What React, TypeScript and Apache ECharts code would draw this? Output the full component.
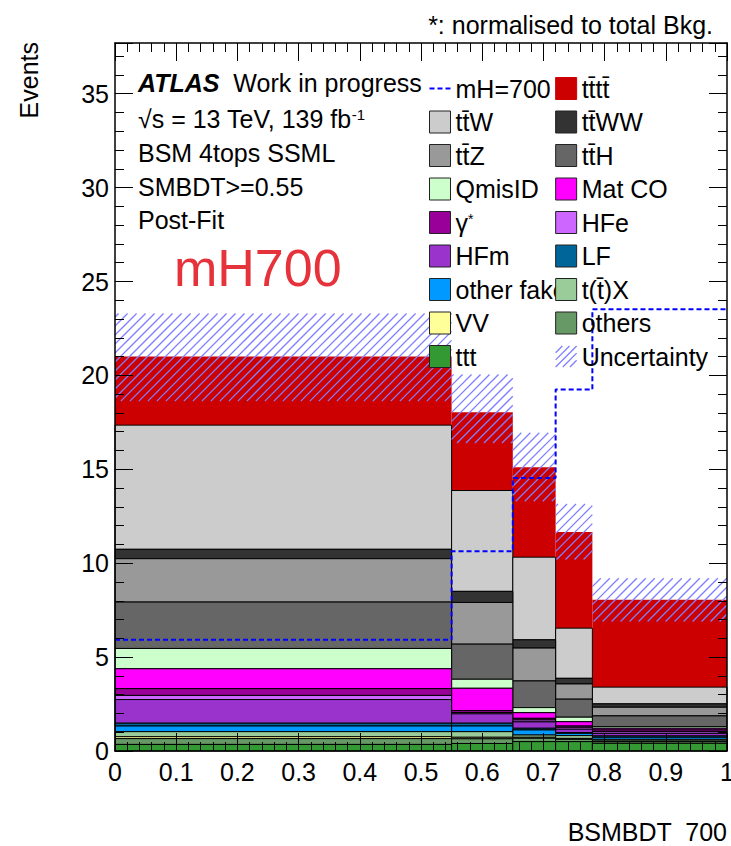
import React, { useEffect, useRef } from 'react';
import * as echarts from 'echarts';

// ---- data ----
const binEdges = [0, 0.55, 0.65, 0.72, 0.78, 1.0];

// stacked backgrounds, bottom -> top
const ttt = [0.35, 0.40, 0.50, 0.50, 0.41];
const others = [0.31, 0.25, 0.18, 0.12, 0.09];
const VV = [0.10, 0.08, 0.05, 0.05, 0.03];
const ttX = [0.27, 0.30, 0.12, 0.15, 0.09];
const otherFake = [0.30, 0.30, 0.27, 0.12, 0.11];
const LF = [0.15, 0.15, 0.09, 0.04, 0.07];
const HFm = [1.26, 0.50, 0.34, 0.18, 0.14];
const HFe = [0.22, 0.07, 0.10, 0.10, 0.09];
const gammaStar = [0.36, 0.10, 0.09, 0.07, 0.09];
const matCO = [1.06, 1.19, 0.30, 0.23, 0.09];
const qmisID = [1.08, 0.48, 0.27, 0.24, 0.09];
const ttH = [2.47, 1.87, 1.42, 0.96, 0.57];
const ttZ = [2.31, 2.22, 1.75, 0.81, 0.46];
const ttWW = [0.50, 0.59, 0.44, 0.30, 0.18];
const ttW = [6.61, 5.37, 4.40, 2.67, 0.89];
const tttt = [3.65, 4.17, 4.79, 5.12, 4.65];

const uncUp = [23.3, 20.05, 16.95, 13.15, 9.2];
const uncDown = [18.63, 16.4, 13.3, 10.2, 6.9];
const signal = [5.92, 10.63, 14.54, 19.25, 23.52];

const yMax = 37.7;

const layerNames = ['ttt', 'others', 'VV', 't(t\u0304)X', 'other fake', 'LF', 'HFm', 'HFe', 'γ*', 'Mat CO', 'QmisID', 'tt\u0304H', 'tt\u0304Z', 'tt\u0304WW', 'tt\u0304W', 'tt\u0304tt\u0304'];
const layerValues = [ttt, others, VV, ttX, otherFake, LF, HFm, HFe, gammaStar, matCO, qmisID, ttH, ttZ, ttWW, ttW, tttt];
const layerColors = ['#339933', '#669966', '#ffff99', '#99cc99', '#0099ff', '#006699', '#9933cc', '#cc66ff', '#990099', '#ff00ff', '#ccffcc', '#666666', '#999999', '#333333', '#cccccc', '#cc0000'];

const legendLeft = ['mH=700', 'tt\u0304W', 'tt\u0304Z', 'QmisID', 'γ*', 'HFm', 'other fake', 'VV', 'ttt'];
const legendRight = ['tt\u0304tt\u0304', 'tt\u0304WW', 'tt\u0304H', 'Mat CO', 'HFe', 'LF', 't(t\u0304)X', 'others', 'Uncertainty'];

const FONT = '"Liberation Sans", Arial, Helvetica, sans-serif';
const HATCH = '#7f7fff';

export default function App() {
  const ref = useRef<HTMLDivElement>(null);

  useEffect(() => {
    document.body.style.margin = '0';
    const chart = echarts.init(ref.current as HTMLDivElement, null, { renderer: 'svg' });

    // cumulative stack
    const nBins = binEdges.length - 1;
    const cum = new Array(nBins).fill(0);
    const layerSeries: any[] = [];
    layerNames.forEach((name, li) => {
      const data: number[][] = [];
      for (let b = 0; b < nBins; b++) {
        const lo = cum[b];
        const hi = lo + layerValues[li][b];
        cum[b] = hi;
        data.push([binEdges[b], binEdges[b + 1], lo, hi]);
      }
      const color = layerColors[li];
      const isTop = li === layerNames.length - 1;
      layerSeries.push({
        type: 'custom',
        name,
        xAxisIndex: 0,
        yAxisIndex: 0,
        clip: false,
        z: 2,
        itemStyle: { color },
        encode: { x: [0, 1], y: [2, 3] },
        data,
        renderItem: (params: any, api: any) => {
          const x0 = api.value(0), x1 = api.value(1), lo = api.value(2), hi = api.value(3);
          if (hi - lo <= 0) return null;
          const pTL = api.coord([x0, hi]);
          const pBR = api.coord([x1, lo]);
          return {
            type: 'rect',
            shape: { x: pTL[0], y: pTL[1], width: pBR[0] - pTL[0], height: pBR[1] - pTL[1] },
            style: isTop ? { fill: color, stroke: null } : { fill: color, stroke: '#000', lineWidth: 1 },
          };
        },
      });
    });
    // draw top layers first so lower layers' outlines sit above them
    layerSeries.reverse();

    const uncData = uncUp.map((u, b) => [binEdges[b], binEdges[b + 1], uncDown[b], u]);
    const uncSeries = {
      type: 'custom',
      name: 'Uncertainty',
      xAxisIndex: 0,
      yAxisIndex: 0,
      clip: false,
      z: 4,
      itemStyle: { color: HATCH },
      encode: { x: [0, 1], y: [2, 3] },
      data: uncData,
      renderItem: (params: any, api: any) => {
        const x0 = api.value(0), x1 = api.value(1), lo = api.value(2), hi = api.value(3);
        const pTL = api.coord([x0, hi]);
        const pBR = api.coord([x1, lo]);
        const X0 = pTL[0], Y0 = pTL[1], X1 = pBR[0], Y1 = pBR[1];
        const step = 9;
        const children: any[] = [];
        for (let c = Math.ceil((X0 + Y0) / step) * step; c <= X1 + Y1; c += step) {
          const xa = Math.max(X0, c - Y1);
          const xb = Math.min(X1, c - Y0);
          if (xb - xa > 0.5) {
            children.push({
              type: 'line',
              shape: { x1: xa, y1: c - xa, x2: xb, y2: c - xb },
              style: { stroke: HATCH, lineWidth: 1.3 },
            });
          }
        }
        return { type: 'group', children };
      },
    };

    const sigData = binEdges.map((x, i) => [x, signal[Math.min(i, signal.length - 1)]]);
    const sigSeries = {
      type: 'line',
      name: 'mH=700',
      xAxisIndex: 0,
      yAxisIndex: 0,
      step: 'end',
      symbol: 'none',
      z: 5,
      lineStyle: { color: '#0000ff', width: 2, type: [5, 3] },
      itemStyle: { color: '#0000ff' },
      data: sigData,
    };

    const tickLine = { color: '#000', width: 1 };
    const frameLine = { color: '#000', width: 1.5 };
    const mkX = (position: string, interval: number, len: number, labels: boolean, line: boolean) => ({
      type: 'value', min: 0, max: 1, interval, position, z: 10,
      axisLine: { show: line, onZero: false, lineStyle: frameLine },
      axisTick: { show: true, inside: true, length: len, lineStyle: tickLine },
      axisLabel: labels
        ? { show: true, margin: 8, color: '#000', fontSize: 25, fontFamily: FONT }
        : { show: false },
      splitLine: { show: false },
    });
    const mkY = (position: string, interval: number, len: number, labels: boolean, line: boolean) => ({
      type: 'value', min: 0, max: yMax, interval, position, z: 10,
      axisLine: { show: line, onZero: false, lineStyle: frameLine },
      axisTick: { show: true, inside: true, length: len, lineStyle: tickLine },
      axisLabel: labels
        ? {
            show: true, margin: 6, color: '#000', fontSize: 25, fontFamily: FONT,
            formatter: (v: number) => (Math.abs(v / 5 - Math.round(v / 5)) < 1e-6 ? String(Math.round(v)) : ''),
          }
        : { show: false },
      splitLine: { show: false },
    });

    const legendItem = (name: string) => {
      if (name === 'mH=700') {
        return {
          name,
          icon: 'path://M0,0h0.01v0.01h-0.01zM21,22h0.01v0.01h-0.01zM0,10h5v2H0zM8,10h5v2H8zM16,10h5v2h-5z',
          itemStyle: { color: '#0000ff', borderWidth: 0 },
        };
      }
      if (name === 'Uncertainty') {
        return {
          name,
          icon: 'path://M0,22L22,0M0,14.5L14.5,0M0,7L7,0M7.5,22L22,7.5M15,22L22,15',
          itemStyle: { color: 'transparent', borderColor: HATCH, borderWidth: 1.3 },
        };
      }
      const i = layerNames.indexOf(name);
      const color = layerColors[i];
      return {
        name,
        icon: 'rect',
        itemStyle: { color, borderColor: name === 'tt\u0304tt\u0304' ? color : '#222', borderWidth: 1 },
      };
    };
    const legendCommon = {
      orient: 'vertical',
      top: 76,
      padding: 0,
      itemWidth: 21,
      itemHeight: 22,
      itemGap: 8.5,
      selectedMode: false,
      formatter: (name: string) => (name === 'γ*' ? '{g|γ}{s|*}' : name),
      textStyle: {
        fontSize: 25, fontFamily: FONT, color: '#000', lineHeight: 22,
        rich: {
          g: { fontSize: 25, fontFamily: FONT, color: '#000', lineHeight: 22 },
          s: { fontSize: 14, fontFamily: FONT, color: '#000', lineHeight: 10, verticalAlign: 'top' },
        },
      },
    };

    const txt = (text: string, x: number, y: number, extra: any = {}, rich?: any) => ({
      type: 'text',
      x, y,
      z: 20,
      style: {
        text, fontSize: 25, fontFamily: FONT, fill: '#000',
        align: 'left', verticalAlign: 'middle', textAlign: 'left', textVerticalAlign: 'middle',
        rich, ...extra,
      },
    });

    const option: any = {
      animation: false,
      backgroundColor: '#fff',
      grid: { left: 115, top: 43, width: 612, height: 708, containLabel: false, outerBoundsMode: 'none' },
      xAxis: [
        mkX('bottom', 0.1, 18, true, true),
        mkX('bottom', 0.02, 9, false, false),
        mkX('top', 0.1, 18, false, true),
        mkX('top', 0.02, 9, false, false),
      ],
      yAxis: [
        mkY('left', 5, 18, true, true),
        mkY('left', 1, 9, false, false),
        mkY('right', 5, 18, false, true),
        mkY('right', 1, 9, false, false),
      ],
      legend: [
        { ...legendCommon, left: 429, data: legendLeft.map(legendItem), z: 6 },
        { ...legendCommon, left: 555, data: legendRight.map(legendItem), z: 7 },
      ],
      graphic: [
        txt('{b|ATLAS}  Work in progress', 138, 83, {}, {
          b: { fontSize: 25, fontFamily: FONT, fontWeight: 'bold', fontStyle: 'italic', fill: '#000' },
        }),
        txt('√s = 13 TeV, 139 fb{sup|-1}', 138, 119, {}, {
          sup: { fontSize: 15, fontFamily: FONT, fill: '#000', verticalAlign: 'top', lineHeight: 14 },
        }),
        txt('BSM 4tops SSML', 138, 153),
        txt('SMBDT>=0.55', 138, 187),
        txt('Post-Fit', 138, 220),
        txt('mH700', 174, 268, { fontSize: 52, fill: '#e5323b' }),
        txt('*: normalised to total Bkg.', 713, 25, { align: 'right', textAlign: 'right' }),
        txt('BSMBDT  700', 727, 832, { align: 'right', textAlign: 'right' }),
        {
          type: 'text', x: 29, y: 42, rotation: Math.PI / 2, z: 20,
          style: {
            text: 'Events', fontSize: 25, fontFamily: FONT, fill: '#000',
            align: 'right', verticalAlign: 'middle', textAlign: 'right', textVerticalAlign: 'middle',
          },
        },
      ],
      series: [...layerSeries, uncSeries, sigSeries],
    };

    chart.setOption(option);
    return () => chart.dispose();
  }, []);

  return <div ref={ref} style={{ width: 731, height: 846 }} />;
}
